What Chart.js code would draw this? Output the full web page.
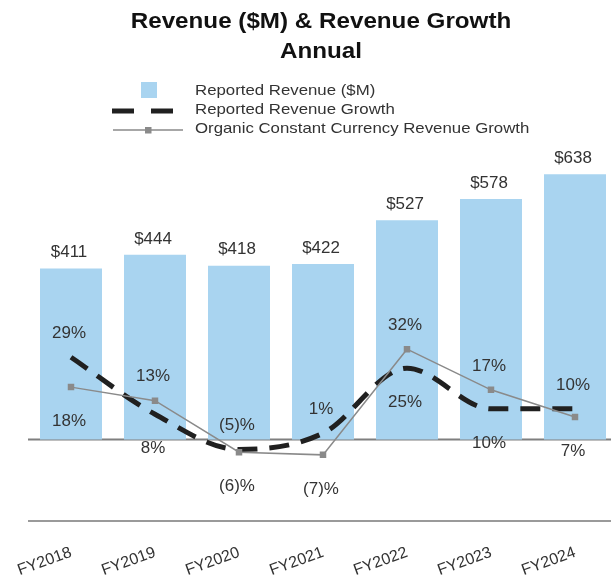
<!DOCTYPE html>
<html>
<head>
<meta charset="utf-8">
<script src="https://cdn.jsdelivr.net/npm/chart.js@4.4.1/dist/chart.umd.min.js"></script>
<style>
  html, body { margin: 0; padding: 0; background: #ffffff; overflow: hidden; }
  #wrap { width: 640px; height: 585px; }
</style>
</head>
<body>
<div id="wrap"><canvas id="c" width="640" height="585"></canvas></div>
<script>
// ---- data ----
const categories = ['FY2018', 'FY2019', 'FY2020', 'FY2021', 'FY2022', 'FY2023', 'FY2024'];
const reportedRevenue = [411, 444, 418, 422, 527, 578, 638];
const reportedGrowth = [29, 8, -5, 1, 25, 10, 10];
const organicGrowth = [18, 13, -6, -7, 32, 17, 7];

const titleLines = ['Revenue ($M) & Revenue Growth', 'Annual'];
const legendLabels = ['Reported Revenue ($M)', 'Reported Revenue Growth', 'Organic Constant Currency Revenue Growth'];

// ---- styles ----
const FONT = '"Liberation Sans", Arial, Helvetica, sans-serif';
const BAR_COLOR = '#a9d4f0';
const DASH_COLOR = '#202020';
const GREY_COLOR = '#8a8a8a';
const TEXT_COLOR = '#333333';

function fmtMoney(v) { return '$' + v; }
function fmtPct(v) { return v < 0 ? '(' + (-v) + ')%' : v + '%'; }

function drawText(ctx, text, x, capCenterY, size, opts) {
  opts = opts || {};
  ctx.save();
  ctx.font = (opts.bold ? 'bold ' : '') + size + 'px ' + FONT;
  ctx.fillStyle = opts.color || TEXT_COLOR;
  ctx.textAlign = opts.align || 'center';
  ctx.textBaseline = 'alphabetic';
  ctx.translate(x, capCenterY + 0.358 * size);
  ctx.scale(opts.sx || 1, 1);
  ctx.fillText(text, 0, 0);
  ctx.restore();
}

const decorPlugin = {
  id: 'decor',
  beforeDatasetsDraw(chart) {
    const ctx = chart.ctx;
    const ca = chart.chartArea;
    const y0 = chart.scales.yBar.getPixelForValue(0);
    ctx.save();
    ctx.strokeStyle = '#7f7f7f';
    ctx.lineWidth = 2;
    ctx.beginPath();
    ctx.moveTo(ca.left - 1, y0);
    ctx.lineTo(ca.right, y0);
    ctx.stroke();
    ctx.restore();
  },
  afterDatasetsDraw(chart) {
    const ctx = chart.ctx;
    // bar labels
    const barMeta = chart.getDatasetMeta(0);
    barMeta.data.forEach((el, i) => {
      drawText(ctx, fmtMoney(reportedRevenue[i]), el.x - 2, el.y - 17, 16, { sx: 1.06 });
    });
    // growth labels
    const repMeta = chart.getDatasetMeta(1);
    const orgMeta = chart.getDatasetMeta(2);
    categories.forEach((c, i) => {
      const r = repMeta.data[i], o = orgMeta.data[i];
      const rAbove = reportedGrowth[i] >= organicGrowth[i];
      drawText(ctx, fmtPct(reportedGrowth[i]), r.x - 2, rAbove ? r.y - 25 : r.y + 33, 16, { sx: 1.06 });
      drawText(ctx, fmtPct(organicGrowth[i]), o.x - 2, rAbove ? o.y + 33 : o.y - 25, 16, { sx: 1.06 });
    });
  },
  afterDraw(chart) {
    const ctx = chart.ctx;
    // title
    drawText(ctx, titleLines[0], 321, 20.5, 22, { bold: true, color: '#111111', sx: 1.1 });
    drawText(ctx, titleLines[1], 321, 50, 22, { bold: true, color: '#111111', sx: 1.1 });
    // legend symbols
    ctx.save();
    ctx.fillStyle = BAR_COLOR;
    ctx.fillRect(141, 82, 16, 16);
    ctx.strokeStyle = DASH_COLOR;
    ctx.lineWidth = 5;
    ctx.beginPath();
    ctx.moveTo(112, 111); ctx.lineTo(134, 111);
    ctx.moveTo(151, 111); ctx.lineTo(173, 111);
    ctx.stroke();
    ctx.strokeStyle = GREY_COLOR;
    ctx.lineWidth = 1.5;
    ctx.beginPath();
    ctx.moveTo(113, 130); ctx.lineTo(183, 130);
    ctx.stroke();
    ctx.fillStyle = GREY_COLOR;
    ctx.fillRect(145, 127, 6.5, 6.5);
    ctx.restore();
    // legend texts
    const ys = [89.6, 108.6, 127.6];
    legendLabels.forEach((t, i) => drawText(ctx, t, 195, ys[i], 15, { align: 'left', sx: 1.12 }));
  }
};

new Chart(document.getElementById('c'), {
  type: 'bar',
  data: {
    labels: categories,
    datasets: [
      {
        type: 'bar',
        label: legendLabels[0],
        data: reportedRevenue,
        backgroundColor: BAR_COLOR,
        borderWidth: 0,
        yAxisID: 'yBar',
        categoryPercentage: 1.0,
        barPercentage: 0.738,
        order: 3
      },
      {
        type: 'line',
        label: legendLabels[1],
        data: reportedGrowth,
        borderColor: DASH_COLOR,
        borderWidth: 5,
        borderDash: [20, 12],
        borderCapStyle: 'butt',
        cubicInterpolationMode: 'monotone',
        pointRadius: 0,
        fill: false,
        yAxisID: 'yPct',
        order: 2
      },
      {
        type: 'line',
        label: legendLabels[2],
        data: organicGrowth,
        borderColor: GREY_COLOR,
        borderWidth: 1.5,
        tension: 0,
        pointStyle: 'rect',
        pointRadius: 4.6,
        pointBackgroundColor: GREY_COLOR,
        pointBorderColor: GREY_COLOR,
        pointBorderWidth: 0,
        fill: false,
        yAxisID: 'yPct',
        order: 1
      }
    ]
  },
  options: {
    responsive: false,
    animation: false,
    devicePixelRatio: 1,
    layout: { padding: { top: 160, left: 29, right: 23, bottom: 0 } },
    plugins: {
      legend: { display: false },
      title: { display: false },
      tooltip: { enabled: false }
    },
    scales: {
      x: {
        offset: true,
        grid: { display: false, drawTicks: false },
        border: { display: true, color: '#9a9a9a', width: 2 },
        ticks: {
          autoSkip: false,
          maxRotation: 20,
          minRotation: 20,
          padding: 22,
          color: TEXT_COLOR,
          font: { family: FONT, size: 16 }
        },
        afterFit(scale) {
          scale.height = 64;
          scale.paddingLeft = 0;
          scale.paddingRight = 0;
        }
      },
      yBar: {
        display: false,
        position: 'left',
        min: -196,
        max: 672
      },
      yPct: {
        display: false,
        position: 'right',
        min: -31.4,
        max: 101.8
      }
    }
  },
  plugins: [decorPlugin]
});
</script>
</body>
</html>
